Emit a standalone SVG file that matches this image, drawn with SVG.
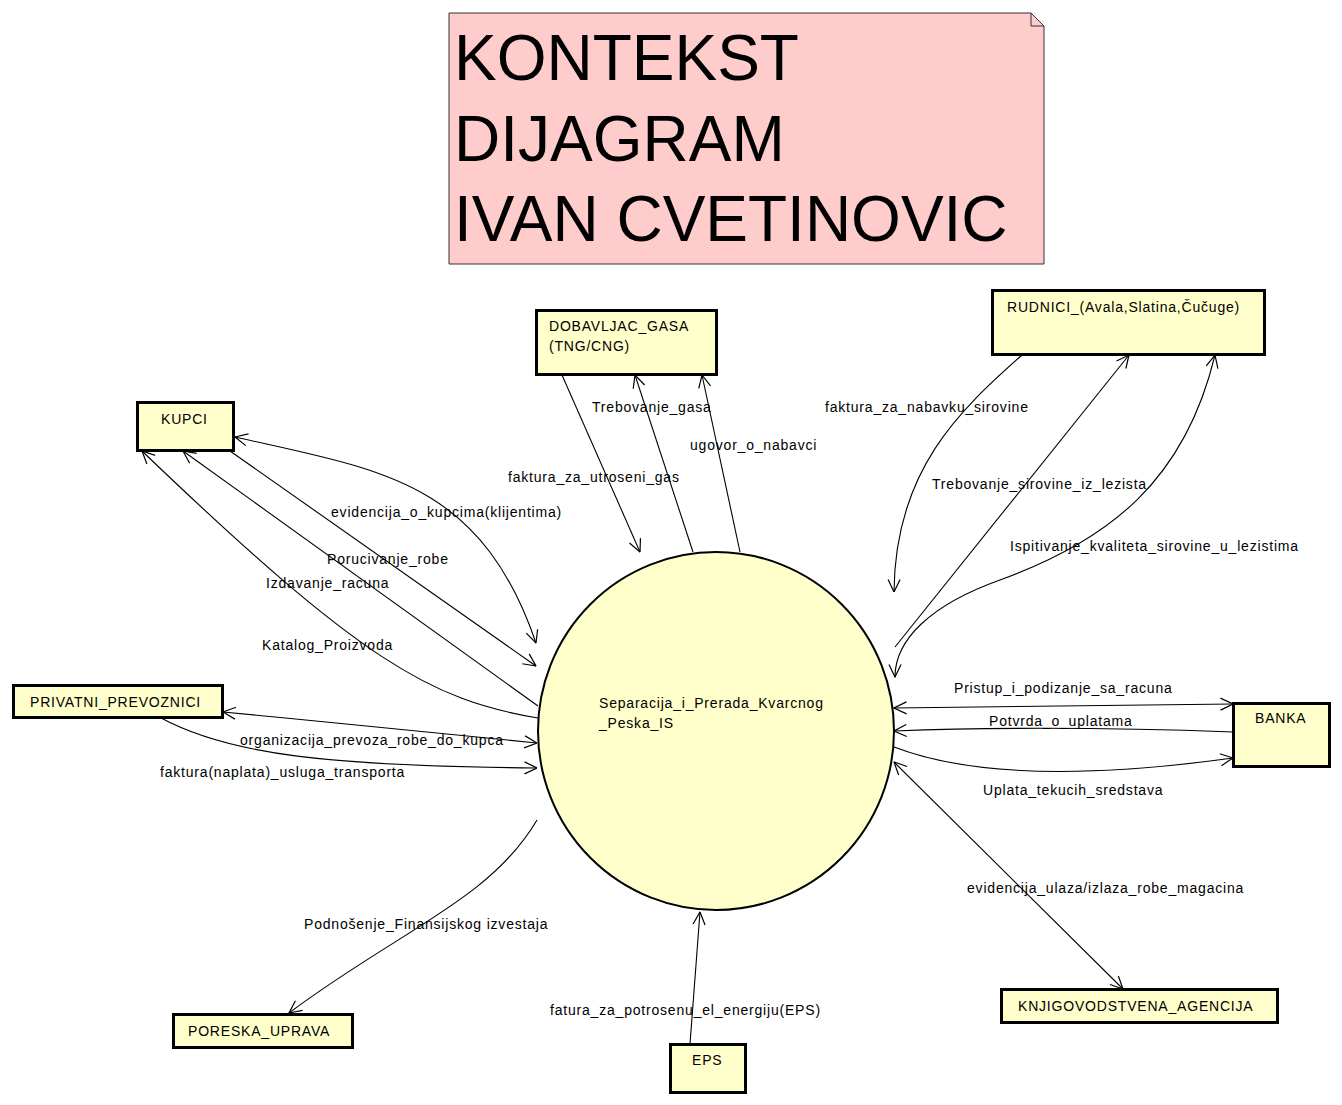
<svg xmlns="http://www.w3.org/2000/svg" width="1342" height="1105" viewBox="0 0 1342 1105">
<style>
  .node rect { fill: #ffffcc; stroke: #000; stroke-width: 3; }
  .ntext { font-family: "Liberation Sans", Arial, sans-serif; font-size: 14px; letter-spacing: 0.8px; fill: #000; }
  .lbl { font-family: "Liberation Sans", Arial, sans-serif; font-size: 14px; letter-spacing: 0.8px; fill: #000; }
  .title { font-family: "Liberation Sans", Arial, sans-serif; font-size: 64px; fill: #000; }
  .conn path { fill: none; stroke: #000; stroke-width: 1.1; }
  .one { marker-end: url(#arr); }
  .two { marker-start: url(#arr); marker-end: url(#arr); }
</style>
<defs>
  <marker id="arr" viewBox="0 0 14 14" refX="13.5" refY="7" markerWidth="14" markerHeight="14" markerUnits="userSpaceOnUse" orient="auto-start-reverse">
    <path d="M1,1 L13.5,7 L1,13" fill="none" stroke="#000" stroke-width="1.2"/>
  </marker>
</defs>
<rect width="1342" height="1105" fill="#ffffff"/>

<g id="title-note">
  <path d="M449,13 L1031,13 L1044,26 L1044,264 L449,264 Z" fill="#ffcccc" stroke="#333" stroke-width="1"/>
  <path d="M1031,13 L1031,26 L1044,26" fill="none" stroke="#333" stroke-width="1"/>
  <text class="title" x="454" y="80">KONTEKST</text>
  <text class="title" x="454" y="161">DIJAGRAM</text>
  <text class="title" x="454" y="241">IVAN CVETINOVIC</text>
</g>

<g id="connectors" class="conn">
  <path class="two" d="M235,437 C380,470 480,480 536,643"/>
  <path class="one" d="M230,451 L536,666"/>
  <path class="one" d="M538,706 L183,451"/>
  <path class="one" d="M538,718 C430,700 360,660 142,451"/>
  <path class="two" d="M223,712 C330,722 440,734 537,743"/>
  <path class="one" d="M161,718 C230,755 330,766 537,768"/>
  <path class="one" d="M537,820 C490,900 400,930 289,1013"/>
  <path class="one" d="M690,1044 L700,912"/>
  <path class="two" d="M894,762 L1123,989"/>
  <path class="one" d="M894,747 C980,780 1110,775 1233,758"/>
  <path class="one" d="M1233,732 C1100,727 1000,727 894,731"/>
  <path class="two" d="M894,708 L1233,704"/>
  <path class="two" d="M1215,355 C1185,480 1110,540 1000,580 C930,605 895,640 895,677"/>
  <path class="one" d="M895,647 L1129,355"/>
  <path class="one" d="M1022,355 C960,410 895,470 894,592"/>
  <path class="one" d="M562,375 L640,552"/>
  <path class="one" d="M693,552 L635,375"/>
  <path class="one" d="M740,552 L702,375"/>
</g>

<g id="connector-labels">
  <text class="lbl" x="331" y="517">evidencija_o_kupcima(klijentima)</text>
  <text class="lbl" x="327" y="564">Porucivanje_robe</text>
  <text class="lbl" x="266" y="588">Izdavanje_racuna</text>
  <text class="lbl" x="262" y="650">Katalog_Proizvoda</text>
  <text class="lbl" x="592" y="412">Trebovanje_gasa</text>
  <text class="lbl" x="690" y="450">ugovor_o_nabavci</text>
  <text class="lbl" x="508" y="482">faktura_za_utroseni_gas</text>
  <text class="lbl" x="825" y="412">faktura_za_nabavku_sirovine</text>
  <text class="lbl" x="932" y="489">Trebovanje_sirovine_iz_lezista</text>
  <text class="lbl" x="1010" y="551">Ispitivanje_kvaliteta_sirovine_u_lezistima</text>
  <text class="lbl" x="954" y="693">Pristup_i_podizanje_sa_racuna</text>
  <text class="lbl" x="989" y="726">Potvrda_o_uplatama</text>
  <text class="lbl" x="983" y="795">Uplata_tekucih_sredstava</text>
  <text class="lbl" x="967" y="893">evidencija_ulaza/izlaza_robe_magacina</text>
  <text class="lbl" x="550" y="1015">fatura_za_potrosenu_el_energiju(EPS)</text>
  <text class="lbl" x="304" y="929">Podnošenje_Finansijskog izvestaja</text>
  <text class="lbl" x="240" y="745">organizacija_prevoza_robe_do_kupca</text>
  <text class="lbl" x="160" y="777">faktura(naplata)_usluga_transporta</text>
</g>

<g id="process">
  <ellipse cx="716" cy="731" rx="178" ry="179" fill="#ffffcc" stroke="#000" stroke-width="2"/>
  <text class="ntext" x="599" y="708">Separacija_i_Prerada_Kvarcnog</text>
  <text class="ntext" x="599" y="728">_Peska_IS</text>
</g>

<g id="kupci" class="node">
  <rect x="137.5" y="402.5" width="96" height="48"/>
  <text class="ntext" x="161" y="424">KUPCI</text>
</g>
<g id="dobavljac-gasa" class="node">
  <rect x="536.5" y="310.5" width="180" height="64"/>
  <text class="ntext" x="549" y="331">DOBAVLJAC_GASA</text>
  <text class="ntext" x="549" y="351">(TNG/CNG)</text>
</g>
<g id="rudnici" class="node">
  <rect x="992.5" y="290.5" width="272" height="64"/>
  <text class="ntext" x="1007" y="312">RUDNICI_(Avala,Slatina,Čučuge)</text>
</g>
<g id="privatni-prevoznici" class="node">
  <rect x="13.5" y="685.5" width="209" height="32"/>
  <text class="ntext" x="30" y="707">PRIVATNI_PREVOZNICI</text>
</g>
<g id="banka" class="node">
  <rect x="1233.5" y="703.5" width="96" height="63"/>
  <text class="ntext" x="1255" y="723">BANKA</text>
</g>
<g id="poreska-uprava" class="node">
  <rect x="173.5" y="1014.5" width="179" height="33"/>
  <text class="ntext" x="188" y="1036">PORESKA_UPRAVA</text>
</g>
<g id="eps" class="node">
  <rect x="670.5" y="1044.5" width="75" height="48"/>
  <text class="ntext" x="692" y="1065">EPS</text>
</g>
<g id="knjigovodstvena-agencija" class="node">
  <rect x="1001.5" y="989.5" width="276" height="33"/>
  <text class="ntext" x="1018" y="1011">KNJIGOVODSTVENA_AGENCIJA</text>
</g>
</svg>
